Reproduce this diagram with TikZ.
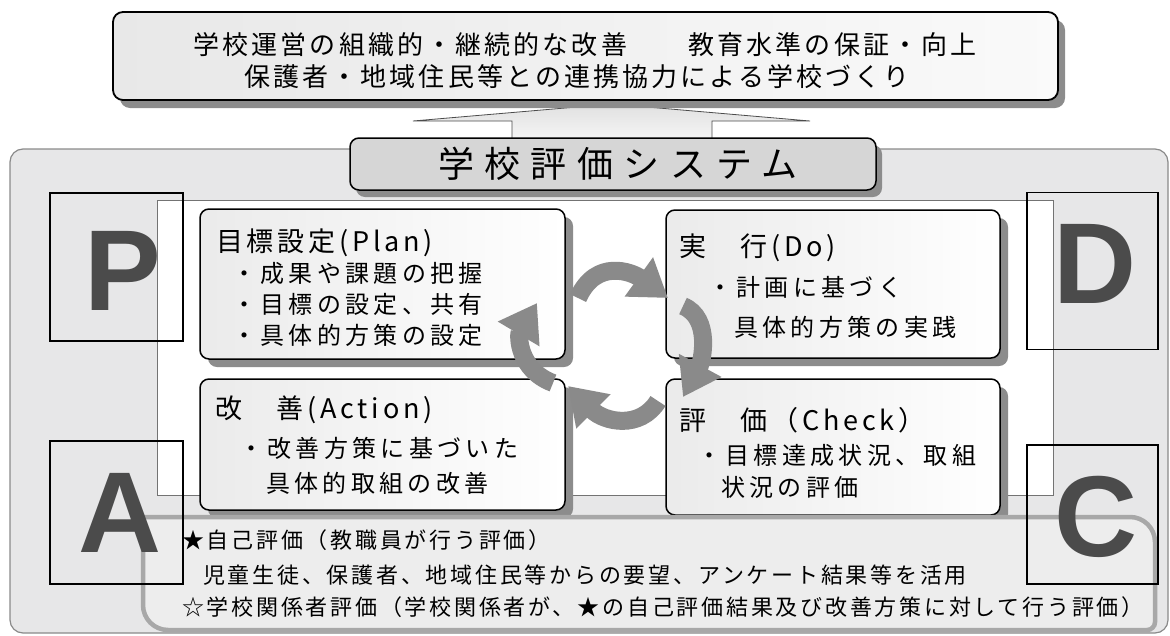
\documentclass[tikz,border=0pt]{standalone}
\usepackage{fontspec}
\setmainfont{Noto Sans CJK JP}
\newfontfamily\goalfont[LetterSpace=12]{Noto Sans CJK JP}
\newfontfamily\titlefont[LetterSpace=29]{Noto Sans CJK JP}
\newfontfamily\stagefont[LetterSpace=14]{Noto Sans CJK JP}
\newfontfamily\itemfont[LetterSpace=18]{Noto Sans CJK JP}
\newfontfamily\notefont[LetterSpace=12.5]{Noto Sans CJK JP}
\newfontfamily\letterfont{Liberation Sans}
\usetikzlibrary{arrows.meta,shadows}
\definecolor{panelgray}{HTML}{E7E7E8}
\definecolor{paneledge}{HTML}{8A8A8A}
\definecolor{labelgray}{HTML}{D6D6D6}
\definecolor{shadowgray}{HTML}{8C8C8C}
\definecolor{bandgray}{HTML}{EDEDED}
\definecolor{bandedge}{HTML}{A8A8A8}
\definecolor{lettergray}{HTML}{4B4B4B}
\definecolor{turngray}{HTML}{8A8A8A}
\tikzset{
  stagebox/.style={rectangle,draw=black,line width=1.5pt,rounded corners=9pt,left color=black!8,right color=white,
    drop shadow={shadow xshift=8pt,shadow yshift=-8pt,fill=shadowgray,opacity=1}},
  pdcabox/.style={rectangle,draw=black,line width=1.8pt},
  pdcaletter/.style={font=\fontsize{115}{115}\letterfont\bfseries,text=lettergray,inner sep=0pt},
  stagehead/.style={font=\fontsize{27}{30}\stagefont,anchor=west,inner sep=0pt},
  stageitem/.style={font=\fontsize{24}{28}\itemfont,anchor=west,inner sep=0pt},
  evalnote/.style={font=\fontsize{22}{26}\notefont,anchor=west,inner sep=0pt},
  cyclearrow/.style={draw=turngray,line width=18pt,-{Triangle[length=36pt,width=46pt]}}
}
\begin{document}
\begin{tikzpicture}[x=1pt,y=-1pt]
\useasboundingbox (0,0) rectangle (1170,635);
%outer panel
\draw[draw=paneledge,fill=panelgray,line width=1.2pt,rounded corners=13pt](10,149)rectangle(1168,633);
%arrow up to the goals
\draw[draw=black!70,line width=0.8pt,top color=black!12,bottom color=black!3](512,143)--(512,121)--(413,121)--(612,104)--(810,121)--(712,121)--(712,143)--cycle;
%goals
\node[rectangle,draw=black,line width=1.8pt,rounded corners=10pt,left color=black!9,right color=black!2,minimum width=945pt,minimum height=88pt,
  drop shadow={shadow xshift=7pt,shadow yshift=-8pt,fill=shadowgray,opacity=1}](goals)at(585.5,56){};
\node[font=\fontsize{26}{30}\goalfont](goalone)at(585,45){学校運営の組織的・継続的な改善　　教育水準の保証・向上};
\node[font=\fontsize{26}{30}\goalfont](goaltwo)at(577,77){保護者・地域住民等との連携協力による学校づくり};
%system label
\node[rectangle,draw=black,line width=1.5pt,rounded corners=9pt,fill=labelgray,minimum width=526pt,minimum height=52pt,
  drop shadow={shadow xshift=6pt,shadow yshift=-7pt,fill=shadowgray,opacity=1}](system)at(613,164){};
\node[font=\fontsize{36}{40}\titlefont](systemtext)at(618,164){学校評価システム};
%white field
\draw[draw=black!55,line width=1pt,fill=white](157,200)rectangle(1053,495);
%stages
\node[stagebox,minimum width=365pt,minimum height=150pt](planbox)at(382.5,284){};
\node[stagebox,minimum width=334pt,minimum height=148pt](dobox)at(833,284){};
\node[stagebox,minimum width=365pt,minimum height=131pt](actbox)at(382.5,444.5){};
\node[stagebox,minimum width=334pt,minimum height=136pt](checkbox)at(833,447){};
\node[stagehead](planhead)at(216,243){目標設定(Plan)};
\node[stageitem](planone)at(232,273){・成果や課題の把握};
\node[stageitem](plantwo)at(232,304){・目標の設定、共有};
\node[stageitem](planthree)at(232,335){・具体的方策の設定};
\node[stagehead](dohead)at(679,248){実　行(Do)};
\node[stageitem](doone)at(708,287){・計画に基づく};
\node[stageitem](dotwo)at(734,327){具体的方策の実践};
\node[stagehead](checkhead)at(679,420){評　価（Check）};
\node[stageitem](checkone)at(697,455){・目標達成状況、取組};
\node[stageitem](checktwo)at(721,487){状況の評価};
\node[stagehead](acthead)at(215,410){改　善(Action)};
\node[stageitem](actone)at(239,448){・改善方策に基づいた};
\node[stageitem](acttwo)at(266,483){具体的取組の改善};
%cycle arrows
\draw[cyclearrow](578,298)..controls(596,258)and(632,272)..(668,298);
\draw[cyclearrow](683,306)..controls(712,318)and(702,362)..(683,397);
\draw[cyclearrow](658,401)..controls(640,430)and(604,422)..(568,386);
\draw[cyclearrow](553,383)..controls(518,370)and(518,335)..(537,303);
%evaluation band
\draw[draw=bandedge,fill=bandgray,line width=4.5pt](143,517)--(1130,517)arc[start angle=90,end angle=0,radius=25pt]
  --(1155,622)arc[start angle=0,end angle=-90,radius=8pt]--(168,630)arc[start angle=270,end angle=180,radius=25pt]--cycle;
%PDCA letters
\node[pdcabox,minimum width=133pt,minimum height=148pt](pbox)at(116.5,267){};
\node[pdcabox,minimum width=131pt,minimum height=157pt](dbox)at(1092.5,271){};
\node[pdcabox,minimum width=133pt,minimum height=143pt](abox)at(116.5,512.5){};
\node[pdcabox,minimum width=131pt,minimum height=139pt](cbox)at(1092.5,514.5){};
\node[pdcaletter](pletter)at(123,271){P};
\node[pdcaletter](dletter)at(1095,264){D};
\node[pdcaletter](aletter)at(120,513){A};
\node[pdcaletter](cletter)at(1096,517){C};
%notes
\node[evalnote](noteone)at(182,540){★自己評価（教職員が行う評価）};
\node[evalnote](notetwo)at(203,575){児童生徒、保護者、地域住民等からの要望、アンケート結果等を活用};
\node[evalnote](notethree)at(182,607){☆学校関係者評価（学校関係者が、★の自己評価結果及び改善方策に対して行う評価）};
\end{tikzpicture}
\end{document}
